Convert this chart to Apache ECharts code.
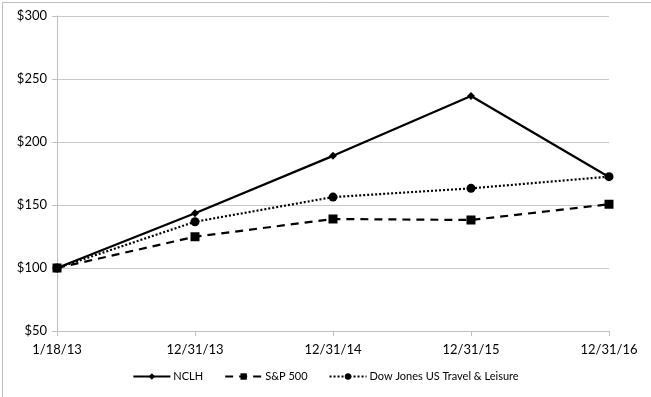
<!DOCTYPE html>
<html><head><meta charset="utf-8">
<script src="https://cdn.jsdelivr.net/npm/echarts@6/dist/echarts.min.js"></script>
<style>html,body{margin:0;padding:0;background:#fff}#c{width:651px;height:397px}</style>
</head><body><div id="c"></div>
<script>
const categories = ['1/18/13','12/31/13','12/31/14','12/31/15','12/31/16'];
const nclh = [100, 143.4, 189, 236.5, 172.2];
const sp500 = [100, 124.8, 138.9, 138.1, 150.6];
const djtl = [100, 136.7, 156.3, 163.2, 172.5];
const yTicks = [50, 100, 150, 200, 250, 300];

const font = 'Lato, "Open Sans", sans-serif';
const chart = echarts.init(document.getElementById('c'));
chart.setOption({
  animation: false,
  backgroundColor: '#fff',
  graphic: [{type:'rect', left:0, top:0, shape:{x:0,y:0,width:650,height:396}, style:{fill:'none', stroke:'#bdbdbd', lineWidth:1}, silent:true, z:-1}],
  grid: {left:57, right:42, top:16, bottom:66},
  legend: {
    bottom: 10, left: 'center', itemWidth: 37, itemHeight: 8, itemGap: 21,
    textStyle: {fontFamily: font, fontSize: 11, color:'#000', padding:[0,0,0,-2]},
    data: ['NCLH','S&P 500','Dow Jones US Travel & Leisure']
  },
  xAxis: {
    type: 'category', data: categories, boundaryGap: false,
    axisLine: {lineStyle:{color:'#bfbfbf'}},
    axisTick: {show:true, length:5, lineStyle:{color:'#bfbfbf'}},
    axisLabel: {fontFamily: font, fontSize: 13, color:'#000', margin: 12}
  },
  yAxis: {
    type: 'value', min: yTicks[0], max: yTicks[yTicks.length-1], interval: 50,
    axisLine: {show:true, lineStyle:{color:'#bfbfbf'}},
    axisTick: {show:true, length:5, lineStyle:{color:'#bfbfbf'}},
    splitLine: {lineStyle:{color:'#c8c8c8'}},
    axisLabel: {fontFamily: font, fontSize: 13, color:'#000', margin: 10, formatter: v => '$' + v}
  },
  series: [
    {name:'NCLH', type:'line', data:nclh, symbol:'diamond', symbolSize:8,
     lineStyle:{color:'#000', width:2.2}, itemStyle:{color:'#000'}},
    {name:'S&P 500', type:'line', data:sp500, symbol:'rect', symbolSize:9,
     lineStyle:{color:'#000', width:2.2, type:[8,6]}, itemStyle:{color:'#000'}},
    {name:'Dow Jones US Travel & Leisure', type:'line', data:djtl, symbol:'circle', symbolSize:9,
     lineStyle:{color:'#000', width:2.2, type:[2,2]}, itemStyle:{color:'#000'}}
  ]
});
</script></body></html>
